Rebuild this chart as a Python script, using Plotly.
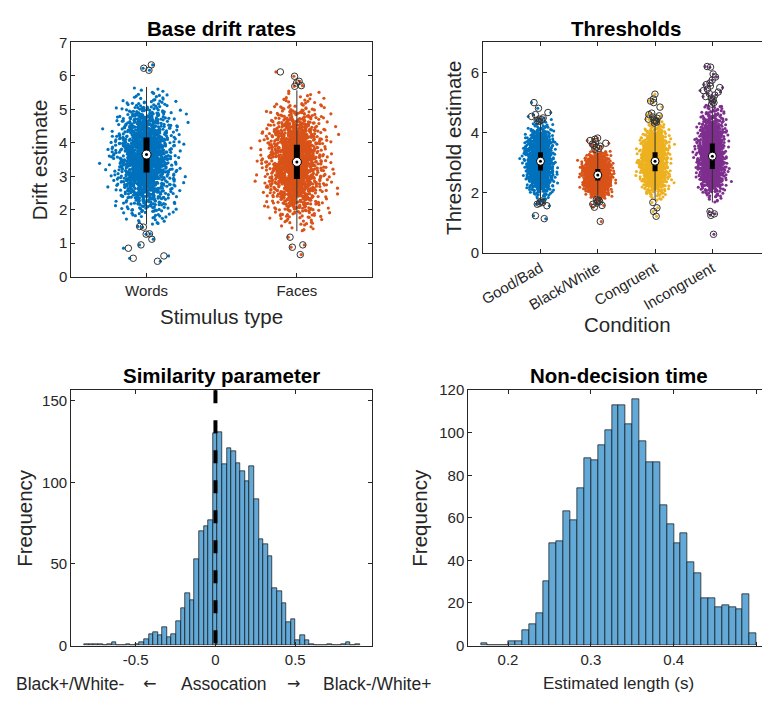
import plotly.graph_objects as go

W, H = 762, 702
FONT = "Liberation Sans, Arial, sans-serif"
INK = "#262626"

# ---------------- DATA ----------------
# Panel 1: base drift rates (point clouds summarised as y-bin counts + outliers)
drift_categories = ["Words", "Faces"]
drift_colors = ["#0072BD", "#D95319"]
drift_bin_start = [1.56, 1.36]
drift_bin_width = [0.195, 0.2]
words_counts = [9, 16, 28, 44, 66, 93, 122, 151, 174, 189, 191, 182, 161, 134, 105, 77, 53, 34, 20, 11, 6]
faces_counts = [7, 13, 23, 39, 60, 87, 118, 149, 175, 193, 197, 189, 168, 140, 109, 78, 53, 33, 20, 11, 6]
words_outliers = [1.50, 1.48, 1.28, 1.27, 1.12, 0.95, 0.85, 0.62, 0.55, 0.46, 6.17, 6.23, 6.33]
faces_outliers = [1.18, 0.95, 0.88, 0.66, 5.69, 5.71, 5.79, 5.84, 5.99, 6.12]
drift_q1 = [3.11, 2.92]
drift_median = [3.65, 3.43]
drift_q3 = [4.16, 3.94]
drift_whisker_lo = [1.56, 1.36]
drift_whisker_hi = [5.67, 5.57]

# Panel 2: thresholds
thr_categories = ["Good/Bad", "Black/White", "Congruent", "Incongruent"]
thr_colors = ["#0072BD", "#D95319", "#EDB120", "#7E2F8E"]
thr_bin_start = [1.75, 1.80, 1.75, 1.68]
thr_bin_width = [0.15, 0.10, 0.15, 0.18]
goodbad_counts = [7, 16, 32, 57, 93, 136, 181, 217, 235, 231, 205, 164, 119, 78, 46, 25, 12, 5]
blackwhite_counts = [11, 24, 47, 81, 125, 174, 217, 243, 243, 217, 174, 125, 81, 47, 24, 11]
congruent_counts = [6, 15, 31, 56, 92, 137, 182, 218, 236, 230, 204, 163, 118, 78, 46, 24, 12, 6]
incongruent_counts = [6, 14, 30, 58, 98, 148, 196, 228, 236, 222, 190, 150, 110, 76, 50, 31, 19, 12]
goodbad_outliers = [4.38, 4.40, 4.43, 4.45, 4.49, 4.54, 4.60, 4.67, 4.81, 5.00,
                    1.73, 1.70, 1.68, 1.65, 1.62, 1.57, 1.24, 1.14]
blackwhite_outliers = [3.45, 3.48, 3.52, 3.55, 3.58, 3.62, 3.65, 3.70, 3.74, 3.78, 3.82,
                       1.78, 1.75, 1.72, 1.70, 1.66, 1.62, 1.58, 1.52, 1.05]
congruent_outliers = [4.32, 4.35, 4.38, 4.40, 4.42, 4.45, 4.48, 4.52, 4.56, 4.60, 4.65,
                      4.85, 5.00, 5.05, 5.12, 5.28, 1.68, 1.50, 1.38, 1.22]
incongruent_outliers = [4.95, 5.00, 5.05, 5.10, 5.15, 5.20, 5.25, 5.30, 5.35, 5.40, 5.45,
                        5.50, 5.55, 5.60, 5.65, 5.75, 5.85, 5.95, 6.18, 6.20,
                        1.38, 1.30, 1.25, 0.62]
thr_q1 = [2.74, 2.41, 2.72, 2.79]
thr_median = [3.05, 2.59, 3.05, 3.22]
thr_q3 = [3.35, 2.79, 3.35, 3.64]
thr_whisker_lo = [1.75, 1.80, 1.75, 1.68]
thr_whisker_hi = [4.35, 3.42, 4.30, 4.93]

# Panel 3: similarity parameter histogram
sim_bin_start = -0.821
sim_bin_width = 0.02875
sim_counts = [1, 1, 1, 1, 0, 1, 2, 0, 0, 1, 0, 1, 2, 4, 7, 8, 6, 11, 5, 7,
              15, 23, 32, 28, 53, 70, 73, 77, 130, 131, 111, 121, 119, 112, 107, 101, 110, 90, 65, 62,
              55, 35, 33, 26, 14, 16, 3, 6, 3, 1, 0, 0, 0, 1, 0, 0, 1, 2, 0, 1]
sim_ticks = [-0.5, 0, 0.5]
sim_ticktext = ["-0.5", "0", "0.5"]
sim_reference = 0

# Panel 4: non-decision time histogram
ndt_bin_start = 0.1671
ndt_bin_width = 0.00832
ndt_counts = [1, 0, 0, 0, 2, 2, 7, 10, 15, 30, 48, 49, 63, 59, 74, 88, 87, 94, 101, 113,
              113, 104, 116, 96, 86, 86, 66, 57, 48, 53, 39, 34, 22, 22, 18, 19, 18, 17, 24, 6]
ndt_ticks = [0.2, 0.3, 0.4, 0.5]

# presentation: each bin's points are shared among nested jitter bands (inner bands hold most);
# small per-trace variations of the jitter keep the library's repeatable jitter from lining up
BAND_PATTERN = [0, 1, 2, 0, 3, 1, 0, 2, 1, 4, 0, 1, 3, 0, 2, 1, 0, 3, 1, 2]
BAND_HALF_WIDTH_SD = [0.8, 1.4, 2.0, 2.6, 3.3]
JITTER_CYCLE = [1.0, 0.84, 0.93, 0.78, 0.97, 0.88, 0.81]
POINTPOS_CYCLE = [0.0, 0.14, -0.11, 0.07, -0.15, 0.11, -0.04, 0.16, -0.08]


def px(x):
    return x / W


def py(y):
    return 1 - y / H


fig = go.Figure()


def jitter_box(vals, pos, xa, ya, width, marker, jitter=1.0, pointpos=0.0):
    fig.add_trace(go.Box(
        y=vals, x0=pos, xaxis=xa, yaxis=ya, boxpoints="all", jitter=jitter, pointpos=pointpos,
        width=width, fillcolor="rgba(0,0,0,0)", line=dict(width=0, color="rgba(0,0,0,0)"),
        marker=marker, hoverinfo="skip", showlegend=False, whiskerwidth=0))


def add_cloud_panel(xa, ya, colors, starts, widths, counts_list, outliers_list,
                    q1, med, q3, wlo, whi, sd, out_w, box_lw, msize):
    n = len(colors)
    band_widths = [2 * h * sd for h in BAND_HALF_WIDTH_SD]
    for i in range(n):
        pos = i + 1
        dot = dict(color=colors[i], size=msize, line=dict(width=0))
        for bi, cnt in enumerate(counts_list[i]):
            lo = starts[i] + bi * widths[i]
            vals = [lo + (k + 0.5) * widths[i] / cnt for k in range(cnt)]
            bands = [[] for _ in band_widths]
            for j, v in enumerate(vals):
                bands[BAND_PATTERN[j % len(BAND_PATTERN)]].append(v)
            for b, bw in enumerate(band_widths):
                if bands[b]:
                    c = bi * 5 + b + i * 3
                    jitter_box(bands[b], pos, xa, ya, bw, dot,
                               jitter=JITTER_CYCLE[c % len(JITTER_CYCLE)],
                               pointpos=POINTPOS_CYCLE[c % len(POINTPOS_CYCLE)])
        jitter_box(list(outliers_list[i]), pos, xa, ya, band_widths[2], dot)
    xs, ys, bx, by = [], [], [], []
    for i in range(n):
        pos = i + 1
        xs += [pos, pos, None]
        ys += [wlo[i], whi[i], None]
        bx += [pos, pos, None]
        by += [q1[i], q3[i], None]
    fig.add_trace(go.Scatter(x=xs, y=ys, xaxis=xa, yaxis=ya, mode="lines",
                             line=dict(color="#303030", width=1), hoverinfo="skip", showlegend=False))
    fig.add_trace(go.Scatter(x=bx, y=by, xaxis=xa, yaxis=ya, mode="lines",
                             line=dict(color="black", width=box_lw), hoverinfo="skip", showlegend=False))
    positions = list(range(1, n + 1))
    fig.add_trace(go.Scatter(x=positions, y=med, xaxis=xa, yaxis=ya, mode="markers",
                             marker=dict(symbol="circle", size=box_lw + 3, color="white",
                                         line=dict(color="black", width=1)),
                             hoverinfo="skip", showlegend=False))
    fig.add_trace(go.Scatter(x=positions, y=med, xaxis=xa, yaxis=ya, mode="markers",
                             marker=dict(symbol="circle", size=3, color="black"),
                             hoverinfo="skip", showlegend=False))
    ring = dict(symbol="circle-open", size=6.5, color="#333333", line=dict(width=1, color="#333333"))
    for i in range(n):
        jitter_box(list(outliers_list[i]), i + 1, xa, ya, out_w, ring)


add_cloud_panel("x", "y", drift_colors, drift_bin_start, drift_bin_width,
                [words_counts, faces_counts], [words_outliers, faces_outliers],
                drift_q1, drift_median, drift_q3, drift_whisker_lo, drift_whisker_hi,
                sd=0.095, out_w=0.3, box_lw=6, msize=3.2)

add_cloud_panel("x2", "y2", thr_colors, thr_bin_start, thr_bin_width,
                [goodbad_counts, blackwhite_counts, congruent_counts, incongruent_counts],
                [goodbad_outliers, blackwhite_outliers, congruent_outliers, incongruent_outliers],
                thr_q1, thr_median, thr_q3, thr_whisker_lo, thr_whisker_hi,
                sd=0.11, out_w=0.32, box_lw=5, msize=3)

bar_color = "#62A9D8"
edge = "rgba(20,20,20,0.9)"
sim_centers = [sim_bin_start + (i + 0.5) * sim_bin_width for i in range(len(sim_counts))]
fig.add_trace(go.Bar(x=sim_centers, y=sim_counts, width=sim_bin_width, xaxis="x3", yaxis="y3",
                     marker=dict(color=bar_color, line=dict(color=edge, width=0.8)),
                     hoverinfo="skip", showlegend=False))
ndt_centers = [ndt_bin_start + (i + 0.5) * ndt_bin_width for i in range(len(ndt_counts))]
fig.add_trace(go.Bar(x=ndt_centers, y=ndt_counts, width=ndt_bin_width, xaxis="x4", yaxis="y4",
                     marker=dict(color=bar_color, line=dict(color=edge, width=0.8)),
                     hoverinfo="skip", showlegend=False))

fig.add_shape(type="line", xref="x3", yref="y3 domain", x0=sim_reference, x1=sim_reference,
              y0=1, y1=0, line=dict(color="black", width=4, dash="13px,17px"))

axis_common = dict(showline=True, linecolor=INK, linewidth=1, ticks="inside", ticklen=4,
                   tickcolor=INK, showgrid=False, zeroline=False,
                   tickfont=dict(family=FONT, size=15, color=INK))

top_y = [py(274.3), py(34.3)]
bot_y = [py(652.3), py(390.7)]

fig.update_layout(
    width=W, height=H, margin=dict(l=0, r=0, t=0, b=0),
    paper_bgcolor="white", plot_bgcolor="white", bargap=0, showlegend=False,
    font=dict(family=FONT, color=INK),
    xaxis=dict(axis_common, domain=[px(67.7), px(370)], range=[0.5, 2.5], mirror="ticks",
               tickvals=[1, 2], ticktext=drift_categories, anchor="y"),
    yaxis=dict(axis_common, domain=top_y, range=[0, 7], dtick=1, mirror="ticks", anchor="x"),
    xaxis2=dict(axis_common, domain=[px(481.7), 1], range=[0, (762 - 481.7) / 57.6], mirror="ticks",
                tickvals=[1, 2, 3, 4], ticktext=thr_categories, tickangle=-30, anchor="y2"),
    yaxis2=dict(axis_common, domain=[py(250), py(34.3)], range=[0, 7], tickvals=[0, 2, 4, 6],
                mirror=False, anchor="x2"),
    xaxis3=dict(axis_common, domain=[px(67.5), px(370)], range=[-0.904, 0.981], mirror="ticks",
                tickvals=sim_ticks, ticktext=sim_ticktext, anchor="y3"),
    yaxis3=dict(axis_common, domain=bot_y, range=[0, 156.6], tickvals=[0, 50, 100, 150],
                mirror="ticks", anchor="x3"),
    xaxis4=dict(axis_common, domain=[px(466.7), 1], range=[0.152, 0.5065], mirror="ticks",
                tickvals=ndt_ticks, ticktext=["0.2", "0.3", "0.4", "0.5"], anchor="y4"),
    yaxis4=dict(axis_common, domain=bot_y, range=[0, 120], dtick=20, mirror=False, anchor="x4"),
)


def label(text, x, y, size, bold=False, angle=0, family=FONT):
    fig.add_annotation(text=f"<b>{text}</b>" if bold else text, x=px(x), y=py(y),
                       xref="paper", yref="paper", showarrow=False, textangle=angle,
                       xanchor="center", yanchor="middle",
                       font=dict(family=family, size=size, color="black" if bold else INK))


label("Base drift rates", 218.9, 20, 20.5, bold=True)
label("Thresholds", 625.7, 20, 20.5, bold=True)
label("Similarity parameter", 218.7, 376, 20.5, bold=True)
label("Non-decision time", 618, 376, 20.5, bold=True)

label("Stimulus type", 218.9, 315, 20.5)
label("Drift estimate", 36, 154.3, 20.5, angle=-90)
label("Condition", 627, 323, 20.5)
label("Threshold estimate", 451.7, 142, 20.5, angle=-90)
label("Frequency", 21, 521.5, 20.5, angle=-90)
label("Frequency", 418, 521.5, 20.5, angle=-90)

# x label of the similarity panel (association direction), laid out piece by piece
label("Black+/White-", 66.5, 691.5, 17.5)
label("\u2190", 146.5, 691.5, 16, family="DejaVu Sans")
label("Assocation", 221, 691.5, 17.5)
label("\u2192", 291, 691.5, 16, family="DejaVu Sans")
label("Black-/White+", 375, 691.5, 17.5)
label("Estimated length (s)", 618, 691.5, 17)

fig.write_html("out.html")
